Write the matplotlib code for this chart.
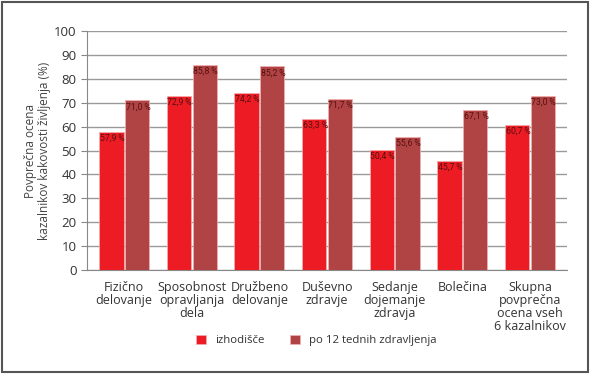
import numpy as np
import matplotlib.pyplot as plt
from matplotlib.patches import Rectangle

categories = ["Fizično\ndelovanje", "Sposobnost\nopravljanja\ndela", "Družbeno\ndelovanje",
              "Duševno\nzdravje", "Sedanje\ndojemanje\nzdravja", "Bolečina",
              "Skupna\npovprečna\nocena vseh\n6 kazalnikov"]
baseline = [57.9, 72.9, 74.2, 63.3, 50.4, 45.7, 60.7]
after12 = [71.0, 85.8, 85.2, 71.7, 55.6, 67.1, 73.0]
series_names = ["izhodišče", "po 12 tednih zdravljenja"]
colors = ["#ED1C24", "#B04343"]

plt.rcParams['font.family'] = ['Open Sans', 'DejaVu Sans']

fig = plt.figure(figsize=(5.92, 3.74), dpi=100)
ax = fig.add_axes([0.147, 0.278, 0.811, 0.639])

x = np.arange(len(categories))
w = 0.36
for i, (vals, c, name) in enumerate(zip([baseline, after12], colors, series_names)):
    pos = x + (i - 0.5) * (w + 0.02)
    bars = ax.bar(pos, vals, w, color=c, edgecolor="#f2b0b0", linewidth=0.5, label=name, zorder=3)
    for b, v in zip(bars, vals):
        lab = f"{v:.1f}".replace(".", ",") + "\u2009%"
        ax.text(b.get_x() + 0.01, v - 0.8, lab, ha="left", va="top",
                fontsize=6.3, color="#5a1010", zorder=4,
                family=['Roboto', 'DejaVu Sans'])

ax.set_ylim(0, 100)
ax.set_xlim(-0.55, len(categories) - 0.45)
ax.set_yticks(range(0, 101, 10))
ax.yaxis.grid(True, color="#9a9a9a", linewidth=1.0, zorder=0)
ax.set_xticks(x)
ax.set_xticklabels(categories, fontsize=9, color="#333333", linespacing=1.0)
ax.tick_params(axis="x", length=0, pad=8)
ax.tick_params(axis="y", labelsize=9.5, labelcolor="#333333", color="#888888", length=4)
for s in ["top", "right"]:
    ax.spines[s].set_visible(False)
for s in ["left", "bottom"]:
    ax.spines[s].set_color("#888888")
ax.set_ylabel("Povprečna ocena\nkazalnikov kakovosti življenja (%)", fontsize=8.5,
              color="#444444", labelpad=2, linespacing=1.1)

fig.legend(loc="center", bbox_to_anchor=(0.534, 0.09), ncol=2, frameon=False,
           fontsize=8.2, handlelength=0.9, handleheight=0.9, columnspacing=2.2,
           handletextpad=0.8, labelcolor="#333333")

fig.patches.append(Rectangle((0.004, 0.006), 0.99, 0.988, transform=fig.transFigure,
                             fill=False, edgecolor="#555555", linewidth=1.5))

fig.savefig("out.png", dpi=100)
